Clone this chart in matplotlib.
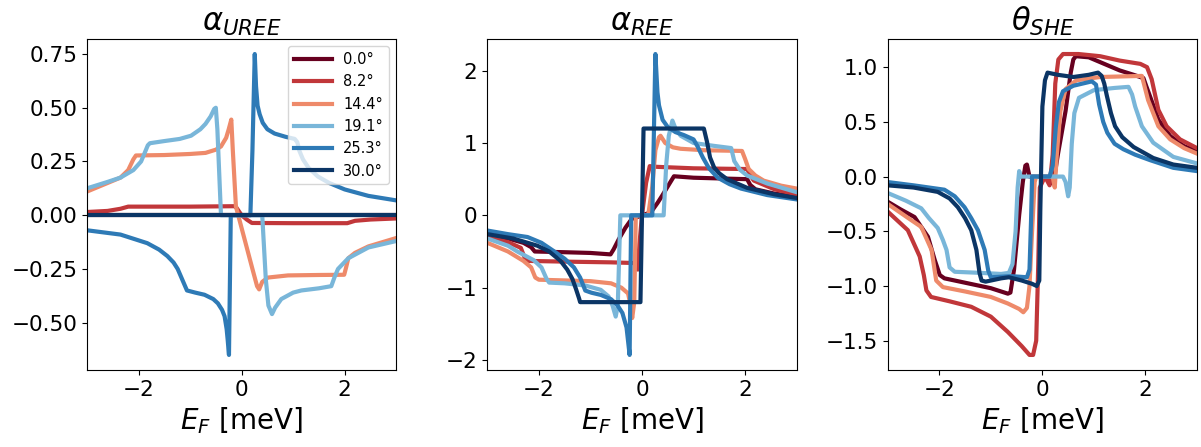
# -*- coding: utf-8 -*-
"""Three-panel comparison of alpha_UREE, alpha_REE and theta_SHE versus Fermi energy."""

import matplotlib
matplotlib.use("Agg")
import matplotlib.pyplot as plt
from matplotlib.ticker import MultipleLocator
import numpy as np


ANGLES = ["0.0°", "8.2°", "14.4°", "19.1°", "25.3°", "30.0°"]
COLORS = ["#67001f", "#c1373a", "#ee8a6a", "#79b6d9", "#2e7ab6", "#0b3565"]

# ---- alpha_UREE: (E_F, value) knots ----
UREE_00 = [(-3, 0.0), (3, 0.0)]
UREE_82 = [(-3, 0.015), (-2.6, 0.02), (-2.35, 0.03), (-2.2, 0.04), (-1.0, 0.04), (-0.14, 0.042),
           (-0.1, 0.035), (0.0, 0.0), (0.1, -0.02), (0.2, -0.036), (1.0, -0.037), (2.05, -0.037),
           (2.2, -0.026), (2.5, -0.02), (3.0, -0.015)]
UREE_144 = [(-3, 0.11), (-2.6, 0.15), (-2.35, 0.175), (-2.2, 0.21), (-2.1, 0.26), (-2.05, 0.278),
            (-1.5, 0.28), (-1.0, 0.285), (-0.7, 0.29), (-0.5, 0.305), (-0.4, 0.32), (-0.3, 0.36),
            (-0.25, 0.40), (-0.2, 0.445), (-0.17, 0.3), (-0.11, 0.04), (0.21, -0.25), (0.3, -0.33),
            (0.34, -0.345), (0.4, -0.31), (0.51, -0.29), (0.9, -0.28), (1.5, -0.278), (1.99, -0.277),
            (2.03, -0.24), (2.07, -0.2), (2.2, -0.175), (2.46, -0.145), (3.0, -0.106)]
UREE_191 = [(-3, 0.125), (-2.6, 0.155), (-2.35, 0.175), (-2.1, 0.21), (-1.95, 0.25), (-1.88, 0.29),
            (-1.82, 0.325), (-1.78, 0.335), (-1.5, 0.345), (-1.2, 0.355), (-0.98, 0.37), (-0.8, 0.40),
            (-0.7, 0.425), (-0.6, 0.46), (-0.53, 0.495), (-0.5, 0.5), (-0.47, 0.4), (-0.4, 0.0),
            (0.4, 0.0), (0.47, -0.3), (0.52, -0.42), (0.59, -0.46), (0.65, -0.43), (0.77, -0.39),
            (1.0, -0.36), (1.16, -0.35), (1.5, -0.34), (1.74, -0.33), (1.8, -0.29), (1.87, -0.25),
            (2.07, -0.2), (2.46, -0.15), (3.0, -0.12)]
UREE_253 = [(-3, -0.07), (-2.35, -0.09), (-1.83, -0.13), (-1.6, -0.16), (-1.44, -0.19), (-1.32, -0.22),
            (-1.24, -0.25), (-1.15, -0.30), (-1.06, -0.35), (-0.9, -0.36), (-0.72, -0.37), (-0.55, -0.39),
            (-0.46, -0.41), (-0.38, -0.44), (-0.33, -0.47), (-0.29, -0.53), (-0.27, -0.58),
            (-0.245, -0.65), (-0.21, 0.0), (0.17, 0.0), (0.21, 0.3), (0.255, 0.75), (0.28, 0.6),
            (0.31, 0.51), (0.35, 0.47), (0.41, 0.43), (0.5, 0.40), (0.64, 0.38), (0.85, 0.365),
            (1.03, 0.355), (1.08, 0.34), (1.12, 0.30), (1.19, 0.26), (1.3, 0.22), (1.48, 0.18),
            (1.7, 0.15), (2.0, 0.12), (2.46, 0.09), (3.0, 0.069)]
UREE_300 = [(-3, 0.0), (3, 0.0)]

# ---- alpha_REE ----
REE_00 = [(-3, -0.27), (-2.6, -0.32), (-2.3, -0.38), (-2.15, -0.44), (-2.08, -0.5), (-1.5, -0.51),
          (-1.0, -0.52), (-0.61, -0.54), (-0.55, -0.47), (-0.45, -0.33), (-0.32, -0.17), (-0.2, -0.05),
          (0.0, 0.0), (0.17, 0.04), (0.3, 0.17), (0.39, 0.27), (0.5, 0.4), (0.62, 0.54), (1.0, 0.52),
          (1.5, 0.51), (2.04, 0.5), (2.1, 0.42), (2.2, 0.36), (2.57, 0.3), (3.0, 0.26)]
REE_82 = [(-3, -0.30), (-2.6, -0.37), (-2.35, -0.45), (-2.28, -0.58), (-2.22, -0.63), (-1.5, -0.64),
          (-0.6, -0.65), (-0.12, -0.66), (-0.08, -0.75), (-0.05, -0.4), (0.0, 0.0), (0.08, 0.45),
          (0.15, 0.68), (0.3, 0.67), (1.0, 0.65), (2.04, 0.64), (2.1, 0.55), (2.17, 0.48),
          (2.57, 0.36), (3.0, 0.29)]
REE_144 = [(-3, -0.38), (-2.6, -0.5), (-2.3, -0.63), (-2.15, -0.72), (-2.07, -0.86), (-2.0, -0.89),
           (-1.5, -0.9), (-1.0, -0.91), (-0.6, -0.94), (-0.4, -1.0), (-0.27, -1.08), (-0.22, -1.25),
           (-0.19, -1.42), (-0.15, -1.2), (-0.12, 0.0), (0.12, 0.0), (0.2, 0.4), (0.26, 0.9),
           (0.33, 1.08), (0.36, 1.1), (0.45, 1.0), (0.6, 0.94), (0.75, 0.92), (1.2, 0.9), (1.94, 0.89),
           (2.0, 0.78), (2.07, 0.64), (2.2, 0.55), (2.36, 0.48), (2.7, 0.41), (3.0, 0.37)]
REE_191 = [(-3, -0.32), (-2.6, -0.42), (-2.42, -0.5), (-2.1, -0.62), (-1.95, -0.72), (-1.85, -0.88),
           (-1.8, -0.93), (-1.5, -0.94), (-1.1, -0.97), (-0.8, -1.03), (-0.65, -1.12), (-0.57, -1.25),
           (-0.51, -1.4), (-0.47, -1.25), (-0.42, 0.0), (0.42, 0.0), (0.47, 0.7), (0.52, 1.1),
           (0.59, 1.31), (0.65, 1.2), (0.75, 1.1), (1.0, 1.0), (1.4, 0.96), (1.73, 0.93), (1.79, 0.75),
           (1.9, 0.63), (2.04, 0.55), (2.43, 0.44), (3.0, 0.32)]
REE_253 = [(-3, -0.21), (-2.6, -0.26), (-2.22, -0.3), (-1.95, -0.38), (-1.7, -0.5), (-1.5, -0.6),
           (-1.32, -0.72), (-1.2, -0.86), (-1.1, -1.04), (-0.98, -1.07), (-0.8, -1.1), (-0.6, -1.16),
           (-0.48, -1.24), (-0.38, -1.35), (-0.3, -1.55), (-0.24, -1.93), (-0.21, 0.0), (0.2, 0.0),
           (0.26, 2.23), (0.3, 1.7), (0.33, 1.52), (0.4, 1.32), (0.5, 1.22), (0.65, 1.15), (0.81, 1.11),
           (1.0, 1.05), (1.08, 0.95), (1.18, 0.8), (1.3, 0.65), (1.47, 0.52), (1.7, 0.43), (1.92, 0.37),
           (2.43, 0.28), (3.0, 0.22)]
REE_300 = [(-3, -0.26), (-2.5, -0.32), (-2.03, -0.42), (-1.8, -0.5), (-1.58, -0.63), (-1.45, -0.75),
           (-1.35, -0.88), (-1.28, -1.02), (-1.22, -1.15), (-1.2, -1.2), (-0.03, -1.2), (0.03, 1.2),
           (1.2, 1.2), (1.26, 1.02), (1.32, 0.8), (1.4, 0.66), (1.5, 0.58), (1.65, 0.5), (2.04, 0.38),
           (2.57, 0.29), (3.0, 0.24)]

# ---- theta_SHE ----
SHE_00 = [(-3, -0.23), (-2.75, -0.3), (-2.48, -0.37), (-2.22, -0.55), (-2.09, -0.76), (-1.99, -0.9),
          (-1.9, -0.93), (-1.5, -0.97), (-1.0, -1.02), (-0.67, -1.07), (-0.62, -1.06), (-0.55, -0.85),
          (-0.45, -0.35), (-0.38, -0.05), (-0.33, 0.1), (-0.3, 0.11), (-0.25, 0.0), (0.14, 0.0),
          (0.18, -0.06), (0.22, -0.04), (0.3, 0.2), (0.45, 0.6), (0.55, 0.95), (0.6, 1.07), (0.65, 1.1),
          (0.9, 1.09), (1.25, 1.02), (1.5, 0.97), (1.77, 0.93), (1.96, 0.9), (2.02, 0.82), (2.09, 0.73),
          (2.25, 0.52), (2.48, 0.37), (2.74, 0.28), (3.0, 0.23)]
SHE_82 = [(-3, -0.32), (-2.61, -0.49), (-2.38, -0.73), (-2.3, -0.9), (-2.25, -1.04), (-2.16, -1.1),
          (-1.8, -1.14), (-1.38, -1.19), (-1.0, -1.28), (-0.67, -1.42), (-0.4, -1.55), (-0.25, -1.63),
          (-0.18, -1.63), (-0.12, -1.5), (-0.08, -0.8), (-0.05, -0.1), (0.05, 0.0), (0.14, -0.08),
          (0.2, 0.2), (0.25, 0.85), (0.31, 1.07), (0.4, 1.12), (0.7, 1.12), (1.12, 1.1), (1.5, 1.06),
          (1.9, 1.03), (2.03, 1.0), (2.12, 0.89), (2.25, 0.61), (2.41, 0.46), (2.67, 0.34), (3.0, 0.26)]
SHE_144 = [(-3, -0.25), (-2.6, -0.38), (-2.35, -0.46), (-2.15, -0.67), (-2.06, -0.95), (-1.93, -1.01),
           (-1.5, -1.05), (-1.0, -1.1), (-0.67, -1.16), (-0.45, -1.21), (-0.37, -1.24), (-0.3, -1.2),
           (-0.25, -1.0), (-0.2, -0.5), (-0.15, -0.05), (-0.12, 0.0), (0.2, 0.0), (0.24, -0.1),
           (0.28, 0.2), (0.35, 0.6), (0.45, 0.8), (0.66, 0.88), (1.12, 0.91), (1.93, 0.92), (2.05, 0.7),
           (2.25, 0.46), (2.48, 0.34), (2.75, 0.26), (3.0, 0.21)]
SHE_191 = [(-3, -0.15), (-2.65, -0.22), (-2.35, -0.29), (-2.2, -0.38), (-2.03, -0.47), (-1.93, -0.58),
           (-1.86, -0.67), (-1.8, -0.83), (-1.7, -0.87), (-1.2, -0.88), (-0.8, -0.89), (-0.65, -0.88),
           (-0.58, -0.8), (-0.52, -0.5), (-0.48, -0.1), (-0.45, 0.05), (-0.42, 0.0), (0.4, 0.0),
           (0.45, -0.05), (0.5, -0.18), (0.53, -0.1), (0.57, 0.3), (0.62, 0.58), (0.71, 0.72),
           (1.0, 0.79), (1.4, 0.81), (1.67, 0.82), (1.74, 0.75), (1.8, 0.64), (1.93, 0.46), (2.15, 0.31),
           (2.54, 0.18), (3.0, 0.12)]
SHE_253 = [(-3, -0.05), (-2.5, -0.08), (-1.9, -0.12), (-1.7, -0.18), (-1.51, -0.28), (-1.38, -0.38),
           (-1.25, -0.49), (-1.12, -0.67), (-1.05, -0.86), (-1.0, -0.92), (-0.6, -0.91), (-0.3, -0.92),
           (-0.25, -0.85), (-0.22, -0.4), (-0.2, 0.0), (0.14, 0.0), (0.2, 0.1), (0.26, 0.45), (0.32, 0.68),
           (0.4, 0.78), (0.6, 0.83), (0.96, 0.87), (1.04, 0.84), (1.1, 0.66), (1.18, 0.5), (1.26, 0.4),
           (1.4, 0.3), (1.57, 0.25), (1.8, 0.2), (2.09, 0.15), (2.54, 0.08), (3.0, 0.05)]
SHE_300 = [(-3, -0.08), (-2.5, -0.1), (-2.03, -0.14), (-1.8, -0.2), (-1.64, -0.28), (-1.5, -0.38),
           (-1.38, -0.49), (-1.28, -0.67), (-1.22, -0.88), (-1.18, -0.95), (-1.1, -0.96), (-0.8, -0.93),
           (-0.65, -0.92), (-0.4, -0.95), (-0.2, -0.98), (-0.11, -1.0), (-0.06, -0.95), (-0.04, -0.3),
           (0.0, 0.64), (0.05, 0.88), (0.1, 0.95), (0.3, 0.93), (0.6, 0.91), (0.9, 0.93), (1.08, 0.95),
           (1.15, 0.92), (1.2, 0.85), (1.25, 0.74), (1.33, 0.58), (1.41, 0.46), (1.55, 0.36), (1.77, 0.27),
           (2.15, 0.17), (2.54, 0.11), (3.0, 0.08)]

PANELS = [
	(r"$\alpha_{UREE}$", [UREE_00, UREE_82, UREE_144, UREE_191, UREE_253, UREE_300], 0.25),
	(r"$\alpha_{REE}$", [REE_00, REE_82, REE_144, REE_191, REE_253, REE_300], 1.0),
	(r"$\theta_{SHE}$", [SHE_00, SHE_82, SHE_144, SHE_191, SHE_253, SHE_300], 0.5),
]


def main():
	fig, axes = plt.subplots(1, 3, figsize=(12.01, 4.47), dpi=100)
	fig.subplots_adjust(left=0.0724, right=0.9967, top=0.9128, bottom=0.1723, wspace=0.2945)
	for i, (ax, (title, curves, ystep)) in enumerate(zip(axes, PANELS)):
		for curve, label, color in zip(curves, ANGLES, COLORS):
			pts = np.array(curve)
			ax.plot(pts[:, 0], pts[:, 1], color=color, lw=3, label=label)
		ax.set_xlim(-3, 3)
		ax.xaxis.set_major_locator(MultipleLocator(2))
		ax.yaxis.set_major_locator(MultipleLocator(ystep))
		ax.tick_params(labelsize=15.5)
		ax.set_title(title, fontsize=22)
		ax.set_xlabel(r"$E_F$ [meV]", fontsize=20)
		if i == 0:
			ax.legend(loc="upper right", fontsize=10.5, handlelength=2.6)
	fig.savefig("out.png", dpi=100)
	plt.close(fig)


if __name__ == "__main__":
	main()
